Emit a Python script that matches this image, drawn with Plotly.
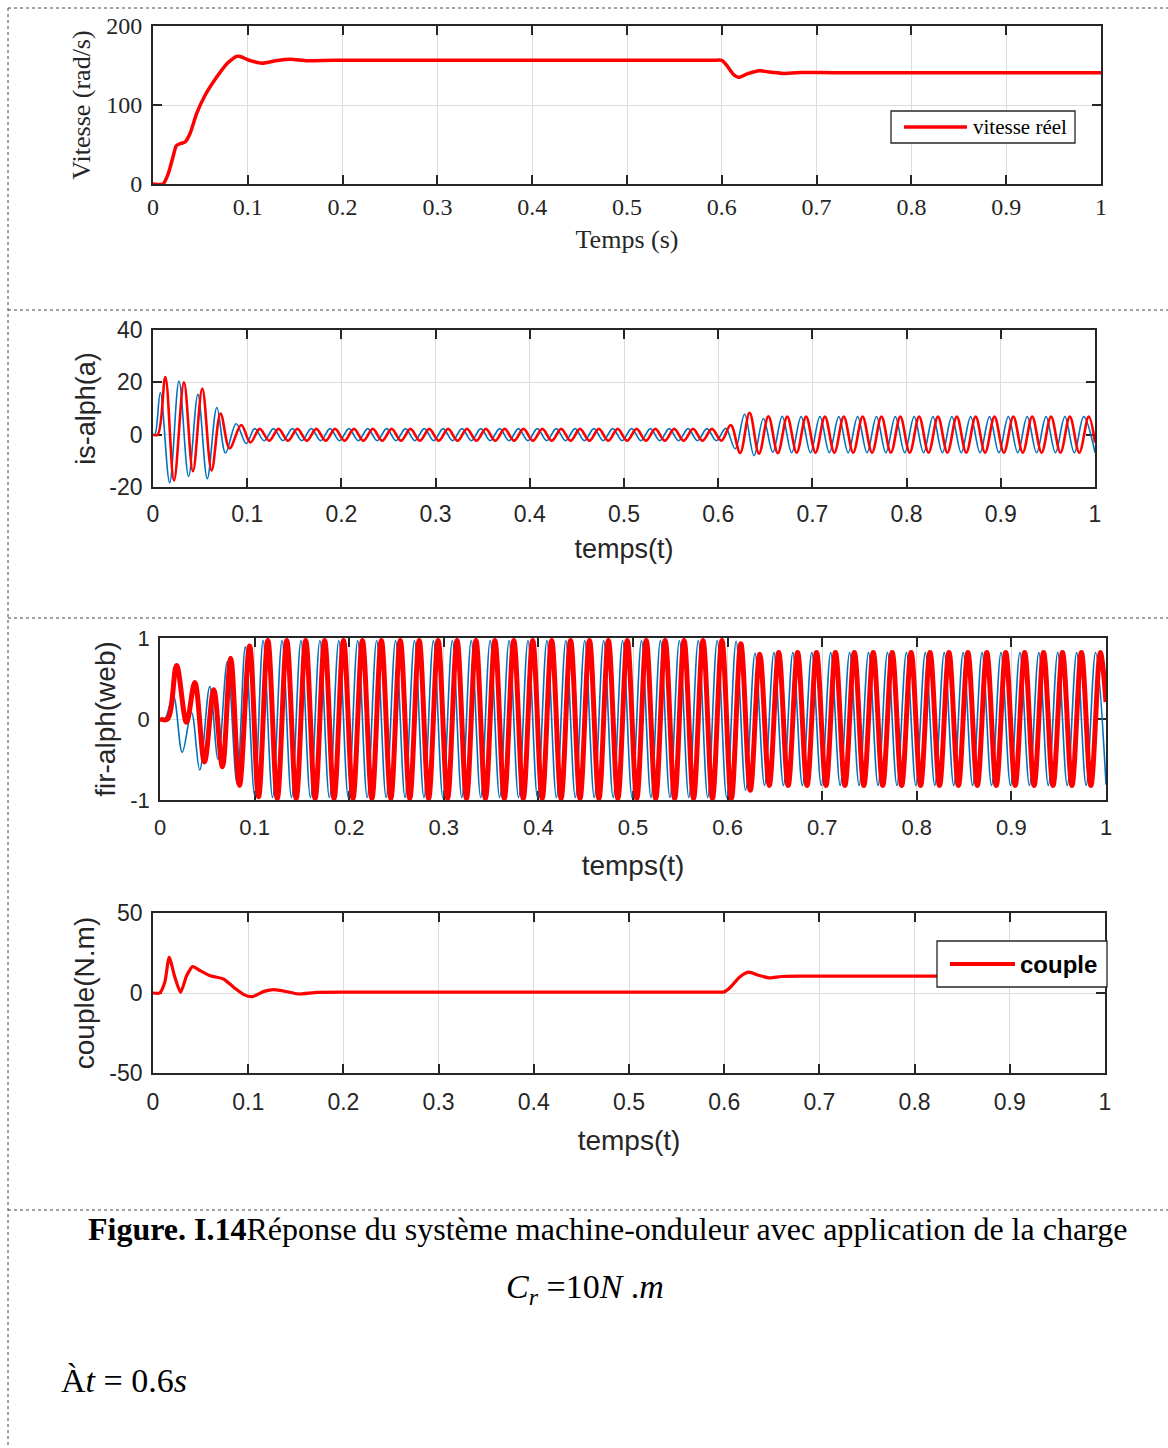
import plotly.graph_objects as go

W, H = 1168, 1448
HALF = 0.01  # half period of the 50 Hz stator quantities (s)

RED = "#FF0000"
BLUE = "#0072BD"
INK = "#262626"
GRID = "#dcdcdc"

# ---------------- data ----------------
tick_x = [0, 0.1, 0.2, 0.3, 0.4, 0.5, 0.6, 0.7, 0.8, 0.9, 1]
tick_x_text = ["0", "0.1", "0.2", "0.3", "0.4", "0.5", "0.6", "0.7", "0.8", "0.9", "1"]

# rotor speed (rad/s)
speed_t = [0, 0.0106, 0.016, 0.021, 0.0247, 0.030, 0.0336, 0.0389, 0.046, 0.0548,
           0.067, 0.0777, 0.088, 0.092, 0.1007, 0.115, 0.131, 0.145, 0.1625, 0.19,
           0.3, 0.45, 0.55, 0.59, 0.6, 0.605, 0.612, 0.618, 0.626, 0.64, 0.654, 0.6646,
           0.682, 0.72, 0.85, 1.0]
speed_w = [0, 0, 12.7, 34, 48.6, 51.6, 52.9, 63.4, 89, 112,
           135, 152, 161.5, 161.5, 157, 153, 156.4, 158, 156, 156.5,
           156.5, 156.5, 156.5, 156.5, 156.5, 150.4, 139, 135, 139, 143.3, 141.2, 140,
           141.2, 140.8, 140.8, 140.8]

# stator current alpha/beta: extrema (t, A) of the transients
is_b_start_t = [0, 0.002, 0.0078, 0.0177, 0.0276, 0.0378, 0.0477, 0.0576, 0.0678, 0.077, 0.0883, 0.099]
is_b_start_v = [0, 0, 16.1, -18.4, 20.5, -16.0, 15.4, -16.8, 10.4, -7.0, 4.2, -3.4]
is_b_load_t = [0.608, 0.618, 0.628, 0.638, 0.648, 0.658, 0.668, 0.678]
is_b_load_v = [2.4, -5.4, 7.8, -8.0, 6.2, -6.7, 7.0, -6.9]
is_r_start_t = [0, 0.005, 0.0131, 0.0223, 0.0329, 0.0424, 0.0523, 0.0622, 0.0717, 0.0813, 0.0937, 0.1033]
is_r_start_v = [0, 0, 22.0, -17.5, 20.0, -14.0, 17.6, -13.7, 8.1, -5.2, 3.7, -3.0]
is_r_load_t = [0.6133, 0.6233, 0.6333, 0.6433, 0.6533, 0.6633, 0.6733]
is_r_load_v = [3.7, -7.0, 8.4, -7.3, 7.0, -7.1, 6.9]
# steady stretches: (first extremum t, last extremum t, first value, second value)
is_b_steady = [(0.108, 0.598, 2.3, -2.3), (0.688, 0.988, 6.9, -6.9)]
is_r_steady = [(0.1133, 0.6033, 2.2, -2.3), (0.6833, 0.9933, -6.9, 6.9)]
is_b_end = (1.0, -6.8)
is_r_end = (1.0, -3.0)

# stator flux alpha/beta
fl_b_start_t = [0, 0.005, 0.014, 0.0235, 0.0333, 0.042, 0.0526, 0.0614, 0.0712, 0.0814, 0.0902, 0.1]
fl_b_start_v = [0, 0, 0.29, -0.41, 0.08, -0.63, 0.40, -0.50, 0.71, -0.80, 0.89, -0.94]
fl_b_load_t = [0.609, 0.619, 0.629, 0.639]
fl_b_load_v = [0.96, -0.88, 0.81, -0.82]
fl_r_start_t = [0, 0.008, 0.0175, 0.028, 0.0368, 0.047, 0.0568, 0.066, 0.0747, 0.084, 0.0947, 0.1042]
fl_r_start_v = [0, 0, 0.66, -0.04, 0.45, -0.53, 0.36, -0.59, 0.75, -0.82, 0.90, -0.96]
fl_r_load_t = [0.614, 0.624, 0.634, 0.644]
fl_r_load_v = [0.93, -0.88, 0.80, -0.82]
fl_b_steady = [(0.109, 0.599, 0.97, -0.97), (0.649, 0.989, 0.82, -0.82)]
fl_r_steady = [(0.114, 0.604, 0.97, -0.98), (0.654, 0.994, 0.82, -0.82)]
fl_b_end = (1.0, -0.81)
fl_r_end = (1.0, 0.21)

# electromagnetic torque (N.m)
torque_t = [0, 0.007, 0.0124, 0.017, 0.023, 0.029, 0.0353, 0.0417, 0.0495, 0.06,
            0.074, 0.085, 0.0954, 0.104, 0.1166, 0.127, 0.141, 0.152, 0.173, 0.22,
            0.35, 0.5, 0.58, 0.595, 0.6, 0.6065, 0.616, 0.6255, 0.637, 0.648, 0.66,
            0.68, 0.75, 0.9, 1.0]
torque_v = [0, 0, 6.7, 22.3, 9.8, 0.4, 10.8, 16.5, 14, 10.8,
            8.75, 3.5, -1, -2.3, 1, 2.1, 0.8, -0.6, 0.4, 0.5,
            0.5, 0.5, 0.6, 0.6, 0.7, 3.6, 9.8, 13, 10.9, 9.4, 10.3,
            10.5, 10.5, 10.5, 10.5]


def steady(span):
    """Alternating extrema, one every half period, over a steady stretch."""
    t0, t1, first, second = span
    n = int(round((t1 - t0) / HALF)) + 1
    ts = [round(t0 + i * HALF, 4) for i in range(n)]
    vs = [first if i % 2 == 0 else second for i in range(n)]
    return ts, vs


def assemble(start_t, start_v, spans, load_t, load_v, end):
    s1t, s1v = steady(spans[0])
    s2t, s2v = steady(spans[1])
    t = start_t + s1t + load_t + s2t + [end[0]]
    v = start_v + s1v + load_v + s2v + [end[1]]
    return t, v


is_b_t, is_b_v = assemble(is_b_start_t, is_b_start_v, is_b_steady, is_b_load_t, is_b_load_v, is_b_end)
is_r_t, is_r_v = assemble(is_r_start_t, is_r_start_v, is_r_steady, is_r_load_t, is_r_load_v, is_r_end)
fl_b_t, fl_b_v = assemble(fl_b_start_t, fl_b_start_v, fl_b_steady, fl_b_load_t, fl_b_load_v, fl_b_end)
fl_r_t, fl_r_v = assemble(fl_r_start_t, fl_r_start_v, fl_r_steady, fl_r_load_t, fl_r_load_v, fl_r_end)


# ---------------- layout helpers (pixel -> paper) ----------------
def px(x):
    return x / W


def py(y):
    return 1 - y / H


SERIF = "Liberation Serif"
SANS = "Liberation Sans"

panels = [
    dict(box=(153, 1101, 26, 184), yr=[0, 200], yt=[0, 100, 200], font=SERIF, tsize=24, lsize=26,
         ytitle="Vitesse (rad/s)", xtitle="Temps (s)", ystand=8, xstand=11, xpad=0),
    dict(box=(153, 1095, 330, 487), yr=[-20, 40], yt=[-20, 0, 20, 40], font=SANS, tsize=23, lsize=27,
         ytitle="is-alph(a)", xtitle="temps(t)", ystand=6, xstand=14, xpad=5),
    dict(box=(160, 1106, 638, 800), yr=[-1, 1], yt=[-1, 0, 1], font=SANS, tsize=22, lsize=28,
         ytitle="fir-alph(web)", xtitle="temps(t)", ystand=6, xstand=16, xpad=7),
    dict(box=(153, 1105, 913, 1073), yr=[-50, 50], yt=[-50, 0, 50], font=SANS, tsize=23, lsize=28,
         ytitle="couple(N.m)", xtitle="temps(t)", ystand=6, xstand=17, xpad=7),
]

fig = go.Figure()

# ---------------- traces ----------------
fig.add_trace(go.Scatter(x=speed_t, y=speed_w, mode="lines", name="vitesse réel",
                         line=dict(color=RED, width=3.5, shape="spline", smoothing=0.6),
                         xaxis="x", yaxis="y", showlegend=False))
fig.add_trace(go.Scatter(x=is_b_t, y=is_b_v, mode="lines", name="is-beta",
                         line=dict(color=BLUE, width=1.6, shape="spline", smoothing=1),
                         xaxis="x2", yaxis="y2", showlegend=False))
fig.add_trace(go.Scatter(x=is_r_t, y=is_r_v, mode="lines", name="is-alpha",
                         line=dict(color=RED, width=2.6, shape="spline", smoothing=1),
                         xaxis="x2", yaxis="y2", showlegend=False))
fig.add_trace(go.Scatter(x=fl_b_t, y=fl_b_v, mode="lines", name="fir-beta",
                         line=dict(color=BLUE, width=1.6, shape="spline", smoothing=1),
                         xaxis="x3", yaxis="y3", showlegend=False))
fig.add_trace(go.Scatter(x=fl_r_t, y=fl_r_v, mode="lines", name="fir-alpha",
                         line=dict(color=RED, width=5, shape="spline", smoothing=1),
                         xaxis="x3", yaxis="y3", showlegend=False))
fig.add_trace(go.Scatter(x=torque_t, y=torque_v, mode="lines", name="couple",
                         line=dict(color=RED, width=3.2, shape="spline", smoothing=0.6),
                         xaxis="x4", yaxis="y4", showlegend=False))

# ---------------- axes ----------------
layout_axes = {}
for i, p in enumerate(panels, start=1):
    l, r, t, b = p["box"]
    sfx = "" if i == 1 else str(i)
    common = dict(
        showline=True, linecolor=INK, linewidth=1.8, mirror="ticks",
        ticks="inside", ticklen=9, tickwidth=1.6, tickcolor=INK,
        showgrid=True, gridcolor=GRID, gridwidth=1.2, zeroline=False,
        tickfont=dict(family=p["font"], size=p["tsize"], color=INK),
        automargin=False, layer="below traces",
    )
    layout_axes["xaxis" + sfx] = dict(
        common, domain=[px(l), px(r)], range=[0, 1], anchor="y" + sfx,
        tickmode="array", tickvals=tick_x, ticktext=tick_x_text,
        ticklabelstandoff=p["xpad"],
        title=dict(text=p["xtitle"], font=dict(family=p["font"], size=p["lsize"], color=INK),
                   standoff=p["xstand"]),
    )
    layout_axes["yaxis" + sfx] = dict(
        common, domain=[py(b), py(t)], range=p["yr"], anchor="x" + sfx,
        tickmode="array", tickvals=p["yt"], ticktext=[str(v) for v in p["yt"]],
        ticklabelstandoff=4,
        title=dict(text=p["ytitle"], font=dict(family=p["font"], size=p["lsize"], color=INK),
                   standoff=p["ystand"]),
    )

fig.update_layout(**layout_axes)

# ---------------- frame (dotted) ----------------
shapes = []
dot = dict(color="#444444", width=1, dash="dot")
shapes.append(dict(type="line", xref="paper", yref="paper", x0=px(8), x1=1, y0=py(8), y1=py(8), line=dot))
shapes.append(dict(type="line", xref="paper", yref="paper", x0=px(8), x1=px(8), y0=py(8), y1=0, line=dot))
for yy in (310, 618, 1210):
    shapes.append(dict(type="line", xref="paper", yref="paper", x0=px(8), x1=1, y0=py(yy), y1=py(yy), line=dot))

# legend boxes
shapes.append(dict(type="rect", xref="paper", yref="paper", x0=px(891), x1=px(1075), y0=py(143), y1=py(111),
                   line=dict(color=INK, width=1.3), fillcolor="white", layer="above"))
shapes.append(dict(type="line", xref="paper", yref="paper", x0=px(904), x1=px(967), y0=py(127), y1=py(127),
                   line=dict(color=RED, width=3.5)))
shapes.append(dict(type="rect", xref="paper", yref="paper", x0=px(937), x1=px(1107), y0=py(987), y1=py(941),
                   line=dict(color=INK, width=1.3), fillcolor="white", layer="above"))
shapes.append(dict(type="line", xref="paper", yref="paper", x0=px(950), x1=px(1015), y0=py(964), y1=py(964),
                   line=dict(color=RED, width=4)))

annotations = [
    dict(text="vitesse réel", x=px(971), y=py(127), xref="paper", yref="paper", xanchor="left",
         yanchor="middle", showarrow=False, font=dict(family=SERIF, size=21, color="#000000")),
    dict(text="<b>couple</b>", x=px(1018), y=py(964), xref="paper", yref="paper", xanchor="left",
         yanchor="middle", showarrow=False, font=dict(family=SANS, size=24, color="#000000")),
    # caption
    dict(text="<b>Figure. I.14</b>Réponse du système machine-onduleur avec application de la charge",
         x=px(607), y=py(1229), xref="paper", yref="paper", xanchor="center", yanchor="middle",
         showarrow=False, font=dict(family=SERIF, size=32, color="#000000")),
    dict(text="<i>C</i><sub><i>r</i></sub> =10<i>N</i> .<i>m</i>",
         x=px(585), y=py(1289), xref="paper", yref="paper", xanchor="center", yanchor="middle",
         showarrow=False, font=dict(family=SERIF, size=34, color="#000000")),
    dict(text="À<i>t</i> = 0.6<i>s</i>",
         x=px(59), y=py(1380), xref="paper", yref="paper", xanchor="left", yanchor="middle",
         showarrow=False, font=dict(family=SERIF, size=34, color="#000000")),
]

fig.update_layout(
    width=W, height=H,
    margin=dict(l=0, r=0, t=0, b=0),
    paper_bgcolor="white", plot_bgcolor="white",
    showlegend=False,
    shapes=shapes, annotations=annotations,
)

fig.write_html("out.html")
